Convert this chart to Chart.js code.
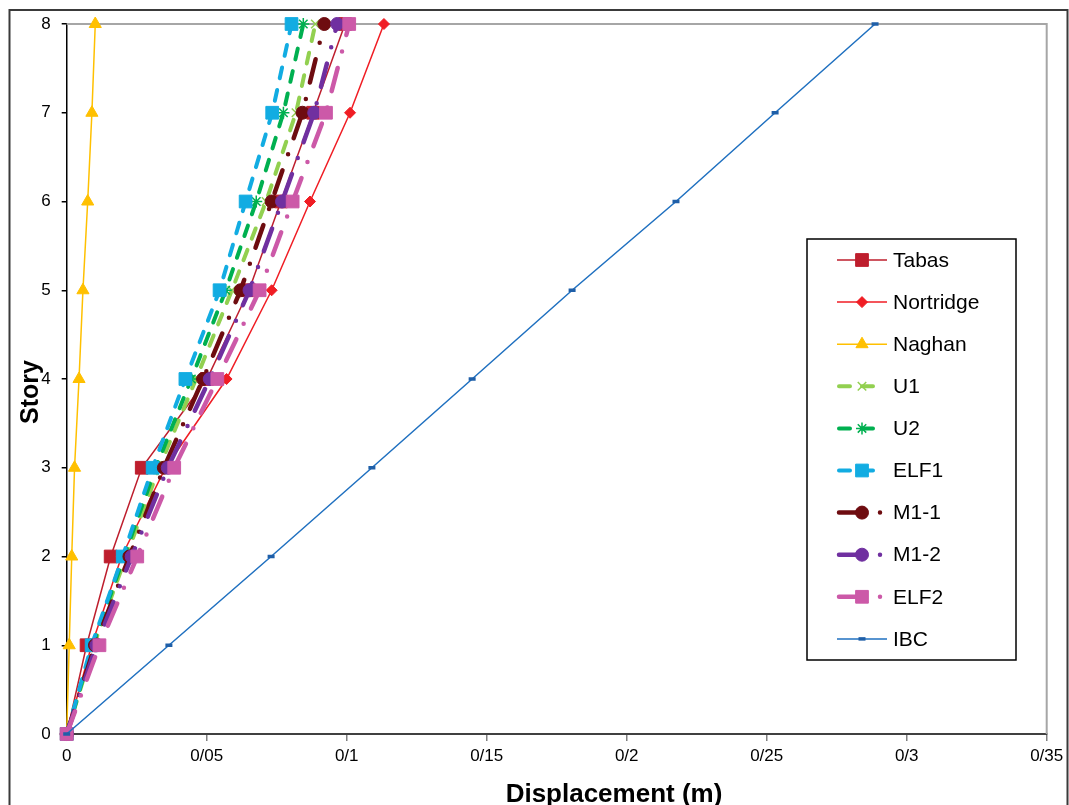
<!DOCTYPE html>
<html>
<head>
<meta charset="utf-8">
<script src="https://cdn.jsdelivr.net/npm/chart.js@4.4.1/dist/chart.umd.min.js"></script>
<style>
  html, body { margin: 0; padding: 0; background: #fff; }
  #wrap { width: 1069px; height: 805px; }
</style>
</head>
<body>
<div id="wrap"><canvas id="driftChart" width="1069" height="805"></canvas></div>
<script>
// story levels (y) and displacement per story (x, metres)
const stories = [0, 1, 2, 3, 4, 5, 6, 7, 8];
const tabas     = [0, 0.0071, 0.0157, 0.0268, 0.0501, 0.0651, 0.0765, 0.0880, 0.0994];
const nortridge = [0, 0.0089, 0.0196, 0.0353, 0.0571, 0.0732, 0.0869, 0.1012, 0.1133];
const naghan    = [0, 0.0009, 0.0018, 0.0028, 0.0044, 0.0058, 0.0075, 0.0090, 0.0102];
const u1        = [0, 0.0097, 0.0212, 0.0330, 0.0462, 0.0590, 0.0712, 0.0819, 0.0888];
const u2        = [0, 0.0093, 0.0205, 0.0318, 0.0445, 0.0568, 0.0677, 0.0774, 0.0845];
const elf1      = [0, 0.0089, 0.0200, 0.0307, 0.0424, 0.0546, 0.0639, 0.0734, 0.0803];
const m11       = [0, 0.0101, 0.0224, 0.0347, 0.0487, 0.0621, 0.0732, 0.0842, 0.0920];
const m12       = [0, 0.0106, 0.0232, 0.0361, 0.0511, 0.0653, 0.0769, 0.0884, 0.0966];
const elf2      = [0, 0.0117, 0.0252, 0.0384, 0.0538, 0.0689, 0.0807, 0.0926, 0.1009];
const ibc       = [0, 0.0365, 0.0730, 0.1090, 0.1448, 0.1805, 0.2176, 0.2530, 0.2887];

const seriesNames = ["Tabas", "Nortridge", "Naghan", "U1", "U2", "ELF1", "M1-1", "M1-2", "ELF2", "IBC"];
const xTickLabels = ["0", "0/05", "0/1", "0/15", "0/2", "0/25", "0/3", "0/35"];

const FONT = "'Liberation Sans', Arial, sans-serif";

const pts = (arr) => arr.map((v, i) => ({ x: v, y: stories[i] }));

const dashed = [11, 12];
const dashDot = [24, 17, 0, 17];

function series(label, values, color, style) {
  return Object.assign({
    label,
    data: pts(values),
    borderColor: color,
    backgroundColor: color,
    pointBackgroundColor: color,
    pointBorderColor: color,
    borderWidth: 1.5,
    pointBorderWidth: 1,
    tension: 0,
    clip: false,
  }, style);
}

const datasets = [
  series(seriesNames[0], tabas, "#BE1E2D", { pointStyle: "rect", pointRadius: 9 }),
  series(seriesNames[1], nortridge, "#F01D24", { pointStyle: "rectRot", pointRadius: 5.5 }),
  series(seriesNames[2], naghan, "#FFC000", { pointStyle: "triangle", pointRadius: 7 }),
  series(seriesNames[3], u1, "#92D050", { borderWidth: 4, borderDash: dashed, borderCapStyle: "round", pointStyle: "crossRot", pointRadius: 6, pointBorderWidth: 1.5 }),
  series(seriesNames[4], u2, "#00B050", { borderWidth: 4, borderDash: dashed, borderCapStyle: "round", pointStyle: "star", pointRadius: 6, pointBorderWidth: 1.5 }),
  series(seriesNames[5], elf1, "#12ACE2", { borderWidth: 4, borderDash: dashed, borderCapStyle: "round", pointStyle: "rect", pointRadius: 9 }),
  series(seriesNames[6], m11, "#6E0C10", { borderWidth: 4.5, borderDash: dashDot, borderCapStyle: "round", pointStyle: "circle", pointRadius: 6.5 }),
  series(seriesNames[7], m12, "#7030A0", { borderWidth: 4.5, borderDash: dashDot, borderCapStyle: "round", pointStyle: "circle", pointRadius: 6.5 }),
  series(seriesNames[8], elf2, "#CC59A8", { borderWidth: 4.5, borderDash: dashDot, borderCapStyle: "round", pointStyle: "rect", pointRadius: 9 }),
  series(seriesNames[9], ibc, "#1F70C0", { pointStyle: "line", pointRadius: 3.5, pointBorderWidth: 3.5, pointBorderColor: "#1F5FA8" }),
];
// later series sit on top, as in the original
datasets.forEach((d, i) => { d.order = datasets.length - i; });

function drawMarker(ctx, ds, x, y) {
  ctx.fillStyle = ds.pointBackgroundColor;
  ctx.strokeStyle = ds.pointBorderColor;
  ctx.lineWidth = ds.pointBorderWidth;
  ctx.setLineDash([]);
  Chart.helpers.drawPoint(ctx, {
    pointStyle: ds.pointStyle, radius: ds.pointRadius, rotation: 0, borderWidth: ds.pointBorderWidth,
  }, x, y);
}

const decorations = {
  id: "decorations",
  beforeDraw(chart) {
    const ctx = chart.ctx;
    ctx.save();
    ctx.fillStyle = "#fff";
    ctx.fillRect(0, 0, chart.width, chart.height);
    // outer frame
    ctx.strokeStyle = "#3a3a3a";
    ctx.lineWidth = 2;
    ctx.beginPath();
    ctx.moveTo(9.5, chart.height + 5);
    ctx.lineTo(9.5, 10);
    ctx.lineTo(1067.5, 10);
    ctx.lineTo(1067.5, chart.height + 5);
    ctx.stroke();
    ctx.restore();
  },
  beforeDatasetsDraw(chart) {
    const { ctx, chartArea: a } = chart;
    ctx.save();
    ctx.strokeStyle = "#A6A6A6";
    ctx.lineWidth = 2;
    ctx.beginPath();
    ctx.moveTo(a.left, a.top);
    ctx.lineTo(a.right, a.top);
    ctx.lineTo(a.right, a.bottom);
    ctx.stroke();
    ctx.restore();
  },
  afterDraw(chart) {
    const ctx = chart.ctx;
    ctx.save();
    // axis titles
    ctx.fillStyle = "#000";
    ctx.textAlign = "center";
    ctx.textBaseline = "middle";
    ctx.font = "bold 26px " + FONT;
    ctx.fillText("Displacement (m)", 614, 795);
    ctx.translate(31, 392);
    ctx.rotate(-Math.PI / 2);
    ctx.font = "bold 25px " + FONT;
    ctx.fillText("Story", 0, 0);
    ctx.restore();

    // legend box
    ctx.save();
    ctx.fillStyle = "#fff";
    ctx.fillRect(807, 239, 209, 421);
    ctx.strokeStyle = "#000";
    ctx.lineWidth = 1.5;
    ctx.strokeRect(807, 239, 209, 421);
    chart.data.datasets.forEach((ds, i) => {
      const y = 260 + i * 42.1;
      ctx.save();
      ctx.strokeStyle = ds.borderColor;
      ctx.lineWidth = ds.borderWidth;
      ctx.lineCap = ds.borderCapStyle || "butt";
      ctx.setLineDash(ds.borderDash || []);
      ctx.beginPath();
      ctx.moveTo(ds.borderDash ? 839 : 837, y);
      ctx.lineTo(ds.borderDash ? 882 : 887, y);
      ctx.stroke();
      ctx.restore();
      drawMarker(ctx, ds, 862, y);
      ctx.fillStyle = "#000";
      ctx.font = "21px " + FONT;
      ctx.textAlign = "left";
      ctx.textBaseline = "middle";
      ctx.fillText(ds.label, 893, y + 1);
    });
    ctx.restore();
  },
};

const ctx = document.getElementById("driftChart").getContext("2d");

new Chart(ctx, {
  type: "line",
  data: { datasets },
  options: {
    responsive: false,
    animation: false,
    layout: { padding: { left: 0, top: 24, right: 22.3, bottom: 0 } },
    plugins: {
      legend: { display: false },
      tooltip: { enabled: false },
    },
    scales: {
      x: {
        type: "linear",
        min: 0,
        max: 0.35,
        afterFit: (s) => { s.height = 71; },
        afterBuildTicks: (s) => { s.ticks = xTickLabels.map((_, i) => ({ value: i * 0.05 })); },
        ticks: {
          stepSize: 0.05,
          padding: 5,
          color: "#000",
          font: { family: FONT, size: 17 },
          maxRotation: 0,
          callback: (v, i) => xTickLabels[i],
        },
        grid: { drawOnChartArea: false, tickLength: 7, color: "#808080", lineWidth: 1.5 },
        border: { color: "#404040", width: 2 },
      },
      y: {
        type: "linear",
        min: 0,
        max: 8,
        afterFit: (s) => { s.width = 66.7; },
        ticks: {
          stepSize: 1,
          padding: 11,
          color: "#000",
          font: { family: FONT, size: 17 },
        },
        grid: { drawOnChartArea: false, tickLength: 5, color: "#000", lineWidth: 1.5 },
        border: { color: "#000", width: 1.5 },
      },
    },
  },
  plugins: [decorations],
});
</script>
</body>
</html>
